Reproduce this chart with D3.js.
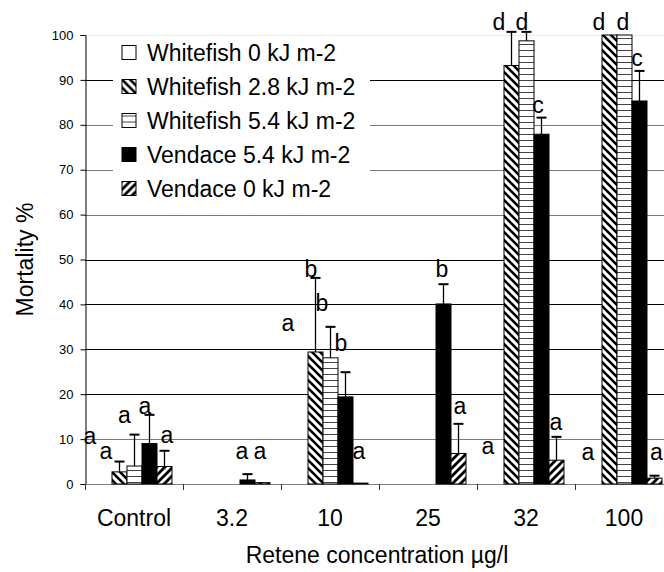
<!DOCTYPE html>
<html>
<head>
<meta charset="utf-8">
<script src="https://cdn.jsdelivr.net/npm/d3@7"></script>
<style>
  body { margin: 0; background: #fff; }
  text { font-family: "Liberation Sans", Arial, sans-serif; fill: #000; }
</style>
</head>
<body>
<svg id="chart" width="664" height="572"></svg>
<script>
// Categories & series
const categories = ['Control', '3.2', '10', '25', '32', '100'];
const seriesNames = ['Whitefish 0 kJ m-2', 'Whitefish 2.8 kJ m-2', 'Whitefish 5.4 kJ m-2',
  'Vendace 5.4 kJ m-2', 'Vendace 0 kJ m-2'];

// Mortality % (null = not tested)
const wf0 = [0, null, 0, null, 0, 0];
const wf28 = [2.7, null, 29.4, null, 93.2, 100];
const wf54 = [4.0, null, 28.1, null, 98.7, 100];
const ven54 = [9.0, 0.9, 19.4, 40.1, 77.9, 85.3];
const ven0 = [3.9, 0.3, 0.2, 6.8, 5.3, 1.3];

// upper error bars
const wf0Err = [0, null, 0, null, 0, 0];
const wf28Err = [2.3, null, 16.5, null, 7.5, 0];
const wf54Err = [7.0, null, 6.9, null, 2.0, 0];
const ven54Err = [6.4, 1.3, 5.5, 4.4, 3.7, 6.7];
const ven0Err = [3.5, 0, 0, 6.6, 5.2, 0.55];

// significance letters: [category, series, letter, height in %]
const letters = [
  [0, 0, 'a', 8.9], [0, 1, 'a', 5.6], [0, 2, 'a', 13.6], [0, 3, 'a', 15.6], [0, 4, 'a', 9.1],
  [1, 3, 'a', 5.6], [1, 4, 'a', 5.6],
  [2, 0, 'a', 34.1], [2, 1, 'b', 46.1], [2, 2, 'b', 38.5], [2, 3, 'b', 29.6], [2, 4, 'a', 5.6],
  [3, 3, 'b', 46.1], [3, 4, 'a', 15.6],
  [4, 0, 'a', 6.7], [4, 1, 'd', 101.1], [4, 2, 'd', 101.1], [4, 3, 'c', 82.6], [4, 4, 'a', 12.0],
  [5, 0, 'a', 5.3], [5, 1, 'd', 101.1], [5, 2, 'd', 101.1], [5, 3, 'c', 93.1], [5, 4, 'a', 5.3]
];
// horizontal nudge of each letter (px), same order as letters
const letterDx = [-14, -13, -9.5, -4, 3, -5, -2, -12, -4, -8, -4, -1, -1, 2,
  -8, -12, -4, -3, 0, -6, -10, -1, -2, 2.5];

const yTicks = [0, 10, 20, 30, 40, 50, 60, 70, 80, 90, 100];

const values = [wf0, wf28, wf54, ven54, ven0];
const errors = [wf0Err, wf28Err, wf54Err, ven54Err, ven0Err];
const fills = ['#fff', 'url(#bdiag)', 'url(#hstripe)', '#000', 'url(#fdiag)'];

const margin = {top: 35, left: 85, bottom: 88};
const width = 664, height = 572;
const plotRight = 673;
const bigFont = 23;

const svg = d3.select('#chart');
svg.append('rect').attr('width', width).attr('height', height).attr('fill', '#fff');

// Hatch patterns
const defs = svg.append('defs');
const bd = defs.append('pattern').attr('id', 'bdiag').attr('patternUnits', 'userSpaceOnUse')
  .attr('width', 8).attr('height', 8);
bd.append('rect').attr('width', 8).attr('height', 8).attr('fill', '#fff');
bd.append('path').attr('d', 'M-2,-2L10,10M-2,6L2,10M6,-2L10,2')
  .attr('stroke', '#000').attr('stroke-width', 2.6);
const fd = defs.append('pattern').attr('id', 'fdiag').attr('patternUnits', 'userSpaceOnUse')
  .attr('width', 8).attr('height', 8);
fd.append('rect').attr('width', 8).attr('height', 8).attr('fill', '#fff');
fd.append('path').attr('d', 'M-2,10L10,-2M-2,2L2,-2M6,10L10,6')
  .attr('stroke', '#000').attr('stroke-width', 2.8);
const hs = defs.append('pattern').attr('id', 'hstripe').attr('patternUnits', 'userSpaceOnUse')
  .attr('width', 6).attr('height', 6);
hs.append('rect').attr('width', 6).attr('height', 6).attr('fill', '#fff');
hs.append('line').attr('x1', 0).attr('x2', 6).attr('y1', 2.5).attr('y2', 2.5)
  .attr('stroke', '#444').attr('stroke-width', 1);

// Scales
const x0 = d3.scaleBand().domain(categories.map((d, i) => i))
  .range([margin.left, plotRight]).paddingInner(0).paddingOuter(0);
const x1 = d3.scaleBand().domain(d3.range(seriesNames.length))
  .range([0, x0.bandwidth()]).paddingInner(0).paddingOuter(0.767);
const y = d3.scaleLinear().domain([0, 100]).range([484, margin.top]);

// Gridlines (some render lighter in the original)
const soft = [10, 60, 70, 80];
svg.append('g').selectAll('line').data(yTicks.filter(d => d > 0)).enter().append('line')
  .attr('x1', margin.left).attr('x2', width)
  .attr('y1', d => Math.round(y(d)) + 0.5).attr('y2', d => Math.round(y(d)) + 0.5)
  .attr('stroke', d => d === 100 ? '#ececec' : (soft.includes(d) ? '#7a7a7a' : '#000'))
  .attr('stroke-width', 1);

// Y axis
const yAxis = svg.append('g').attr('transform', `translate(${margin.left + 0.5},0)`)
  .call(d3.axisLeft(y).tickValues(yTicks).tickSize(5).tickPadding(7));
yAxis.select('.domain').attr('stroke', '#000');
yAxis.selectAll('.tick line').attr('stroke', '#000');
yAxis.selectAll('.tick text').attr('font-size', 13).attr('font-family', '"Liberation Sans", Arial, sans-serif');

// X axis baseline and category ticks
svg.append('line').attr('x1', margin.left).attr('x2', width)
  .attr('y1', y(0) + 0.5).attr('y2', y(0) + 0.5).attr('stroke', '#808080');
svg.append('g').selectAll('line').data(categories.map((d, i) => i)).enter().append('line')
  .attr('x1', d => Math.round(x0(d)) + 0.5).attr('x2', d => Math.round(x0(d)) + 0.5)
  .attr('y1', y(0)).attr('y2', y(0) + 6).attr('stroke', '#333');
svg.append('g').selectAll('text').data(categories).enter().append('text')
  .attr('x', (d, i) => x0(i) + x0.bandwidth() / 2).attr('y', 526)
  .attr('text-anchor', 'middle').attr('font-size', bigFont).text(d => d);

// Legend box
svg.append('rect').attr('x', 113).attr('y', 37).attr('width', 257).attr('height', 168)
  .attr('fill', '#fff');
const leg = svg.append('g').selectAll('g').data(seriesNames).enter().append('g')
  .attr('transform', (d, i) => `translate(122, ${45.5 + i * 34})`);
leg.append('rect').attr('width', 14).attr('height', 14)
  .attr('fill', (d, i) => fills[i]).attr('stroke', '#000').attr('stroke-width', 1);
leg.append('text').attr('x', 25).attr('y', 15).attr('font-size', bigFont).text(d => d);

// Bars
const groups = svg.append('g').selectAll('g').data(seriesNames).enter().append('g');
groups.each(function(name, s) {
  const g = d3.select(this);
  const rows = values[s].map((v, i) => ({i, v, e: errors[s][i]})).filter(d => d.v);
  g.selectAll('rect').data(rows).enter().append('rect')
    .attr('x', d => x0(d.i) + x1(s) + 0.5)
    .attr('y', d => y(d.v))
    .attr('width', x1.bandwidth())
    .attr('height', d => y(0) - y(d.v))
    .attr('fill', fills[s]).attr('stroke', '#000').attr('stroke-width', 1);
  // upper error bars
  const errs = rows.filter(d => d.e);
  const cx = d => x0(d.i) + x1(s) + x1.bandwidth() / 2 + 0.5;
  g.selectAll('.err').data(errs).enter().append('line').attr('class', 'err')
    .attr('x1', cx).attr('x2', cx)
    .attr('y1', d => y(d.v)).attr('y2', d => y(d.v + d.e))
    .attr('stroke', '#000').attr('stroke-width', 1.3);
  g.selectAll('.cap').data(errs).enter().append('line').attr('class', 'cap')
    .attr('x1', d => cx(d) - 5).attr('x2', d => cx(d) + 5)
    .attr('y1', d => y(d.v + d.e)).attr('y2', d => y(d.v + d.e))
    .attr('stroke', '#000').attr('stroke-width', 2);
});

// Significance letters
svg.append('g').selectAll('text').data(letters).enter().append('text')
  .attr('x', (d, k) => x0(d[0]) + x1(d[1]) + x1.bandwidth() / 2 + letterDx[k])
  .attr('y', d => y(d[3]))
  .attr('text-anchor', 'middle').attr('font-size', bigFont).text(d => d[2]);

// Axis titles
svg.append('text').attr('x', 377).attr('y', 563).attr('text-anchor', 'middle')
  .attr('font-size', bigFont).text('Retene concentration µg/l');
svg.append('text').attr('transform', 'translate(33,259.5) rotate(-90)')
  .attr('text-anchor', 'middle').attr('font-size', bigFont).text('Mortality %');
</script>
</body>
</html>
